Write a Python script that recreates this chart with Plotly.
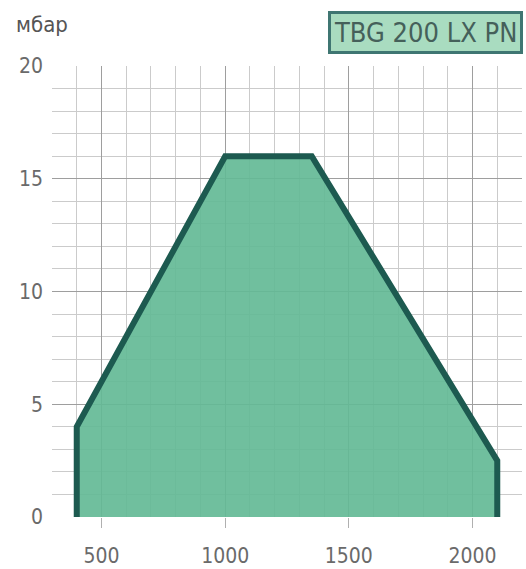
import plotly.graph_objects as go

# Data
flow = [400, 400, 1000, 1350, 2100, 2100]
pressure = [0, 4, 16, 16, 2.5, 0]
x_ticks = [500, 1000, 1500, 2000]
y_ticks = [0, 5, 10, 15, 20]
title_text = "TBG 200 LX PN"
y_unit = "мбар"

W, H = 526, 569
L, R, T, B = 52, 4, 66, 52

fig = go.Figure()
fig.add_trace(go.Scatter(
    x=flow, y=pressure, mode="lines", fill="toself",
    fillcolor="rgba(100,186,150,0.92)",
    line=dict(color="#1d5a50", width=6),
    hoverinfo="skip", showlegend=False,
))

font_family = "DejaVu Sans Condensed, DejaVu Sans, sans-serif"

fig.update_layout(
    template="none",
    width=W, height=H,
    margin=dict(l=L, r=R, t=T, b=B, autoexpand=False),
    paper_bgcolor="white", plot_bgcolor="white",
    font=dict(family=font_family, color="#666666", size=21),
    xaxis=dict(
        range=[300, 2200], tickvals=x_ticks, showgrid=True,
        gridcolor="#9e9e9e", gridwidth=1,
        minor=dict(dtick=100, tick0=300, showgrid=True, gridcolor="#cbcbcb", gridwidth=1),
        ticks="outside", ticklen=10, tickcolor="#b0b0b0", tickwidth=1,
        ticklabelstandoff=10, automargin=False,
        zeroline=False, showline=False, fixedrange=True,
        tickfont=dict(size=21, color="#6a6a6a"),
    ),
    yaxis=dict(
        range=[0, 20], tickvals=y_ticks, showgrid=True,
        gridcolor="#9e9e9e", gridwidth=1,
        minor=dict(dtick=1, tick0=0, showgrid=True, gridcolor="#cbcbcb", gridwidth=1),
        ticks="", ticklabelstandoff=8, automargin=False,
        zeroline=False, showline=False, fixedrange=True,
        tickfont=dict(size=21, color="#6a6a6a"),
    ),
    annotations=[
        dict(text=y_unit, xref="paper", yref="paper",
             x=-(L - 14) / (W - L - R), y=1 + (T - 24) / (H - T - B),
             xanchor="left", yanchor="middle", showarrow=False,
             font=dict(size=22, color="#555555", family=font_family)),
        dict(text=title_text, xref="paper", yref="paper",
             x=1.0 + 1 / (W - L - R), y=1 + (T - 33) / (H - T - B),
             xanchor="right", yanchor="middle", showarrow=False,
             bgcolor="#a9dcc0", bordercolor="#3f7672", borderwidth=3, borderpad=3,
             font=dict(size=27, color="#45605a", family=font_family)),
    ],
)

fig.write_html("out.html", config={"displayModeBar": False},
               post_script="document.body.style.margin='0';")
